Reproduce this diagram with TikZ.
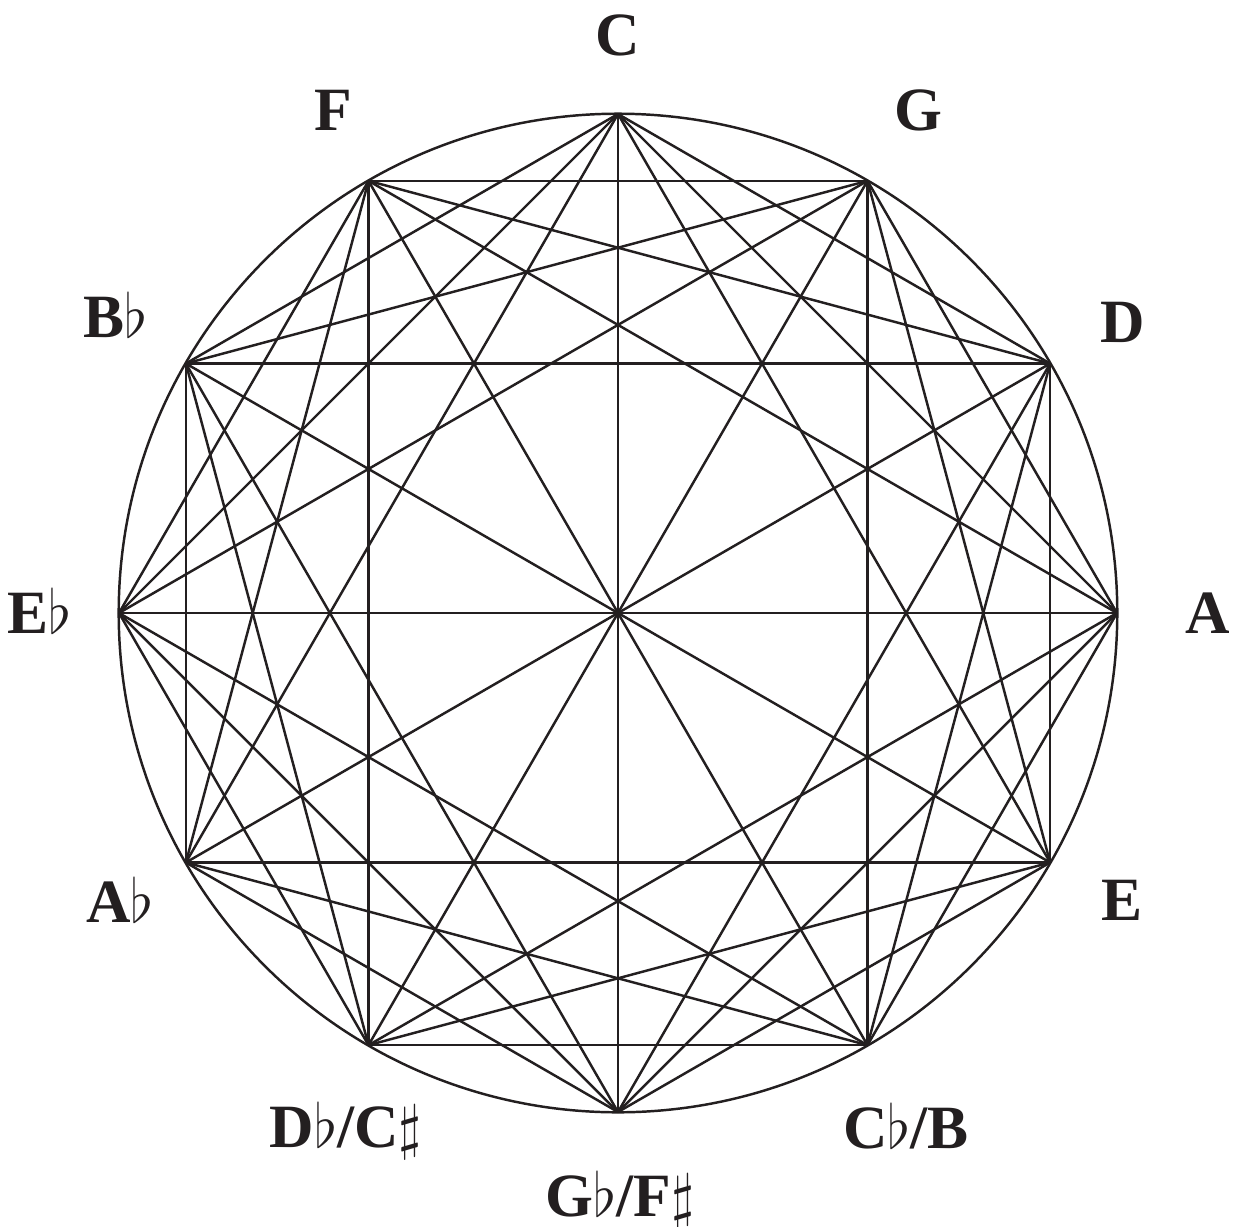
\documentclass[tikz,border=0pt]{standalone}
\usepackage{fontspec}
\setmainfont{Liberation Serif}
\usetikzlibrary{positioning}
\definecolor{ink}{HTML}{231F20}

\begin{document}
\begin{tikzpicture}[
    x=0.01cm, y=0.01cm,
    note/.style={anchor=base, inner sep=0pt, text=ink,
                 font=\fontsize{17.5}{21}\selectfont\bfseries},
    chord/.style={draw=ink, line width=0.7pt}
]
\useasboundingbox (-618,-613) rectangle (621,613);

% the twelve points, C on top, fifths going clockwise
\foreach \i in {0,...,11}
  \coordinate (n\i) at ({90-30*\i}:499);

\draw[chord] (0,0) circle [radius=4.99cm];

% chords skipping 2, 3 and 4 steps
\foreach \i in {0,...,11}
  \foreach \k in {2,3,4}
    {\pgfmathtruncatemacro\j{mod(\i+\k,12)}
     \draw[chord] (n\i) -- (n\j);}
% diameters
\foreach \i in {0,...,5}
  {\pgfmathtruncatemacro\j{\i+6}
   \draw[chord] (n\i) -- (n\j);}

% labels
\node[note] (C)  at (0,558)     {C};
\node[note] (G)  at (300,483)   {G};
\node[note] (D)  at (505,271)   {D};
\node[note] (A)  at (590,-20)   {A};
\node[note] (E)  at (504,-307)  {E};
\node[note] (B)  at (288,-535)  {C$\flat$/B};
\node[note] (Fs) at (2,-603)    {G$\flat$/F$\sharp$};
\node[note] (Db) at (-272,-534) {D$\flat$/C$\sharp$};
\node[note] (Ab) at (-498,-309) {A$\flat$};
\node[note] (Eb) at (-578,-20)  {E$\flat$};
\node[note] (Bb) at (-502,276)  {B$\flat$};
\node[note] (F)  at (-285,483)  {F};
\end{tikzpicture}
\end{document}
